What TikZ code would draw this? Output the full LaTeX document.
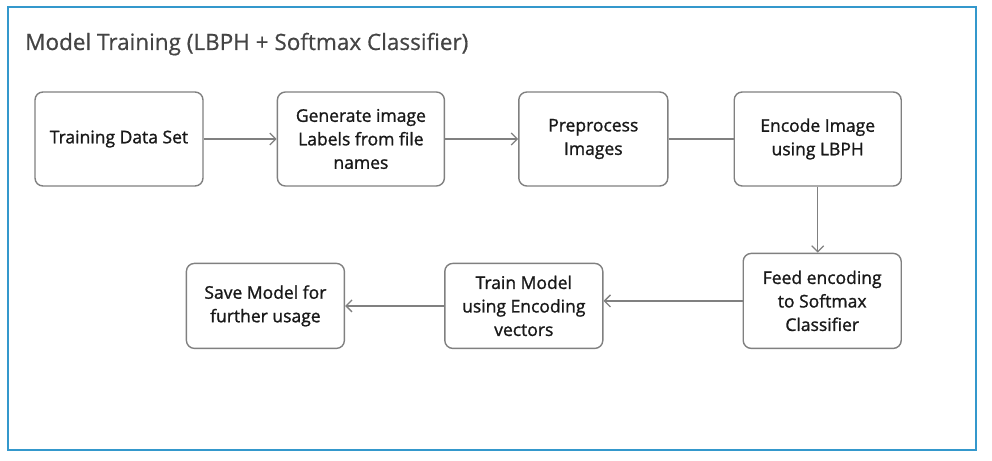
\documentclass[tikz,border=0pt]{standalone}
\usepackage{fontspec}
\setmainfont{Open Sans}
\newfontfamily\stagefont{Open Sans}[FakeBold=1.2]
\newfontfamily\titlefont{Open Sans}[FakeBold=0.6]
\usetikzlibrary{arrows.meta, positioning}
\definecolor{frameblue}{RGB}{52,152,204}
\definecolor{boxgray}{RGB}{128,128,128}
\definecolor{titlegray}{RGB}{68,68,68}

\begin{document}
\begin{tikzpicture}[
        x=1pt, y=-1pt,
        stage/.style={rectangle, draw=boxgray, line width=1.4pt, fill=white, rounded corners=8pt, minimum width=158pt, minimum height=94pt, align=center, font=\stagefont\fontsize{17.5}{23.5}\selectfont, text=black!90},
        arrow/.style={-{Straight Barb[length=6pt, width=12pt]}, line width=1.3pt, boxgray},
        link/.style={line width=1.3pt, boxgray}
    ]
        \useasboundingbox (0,0) rectangle (992,460);
        \draw[frameblue, line width=2.5pt] (8,7) rectangle (976,450);
        \node[anchor=base west, inner sep=0pt, font=\titlefont\fontsize{22.5}{26}\selectfont, text=titlegray] (title) at (25,50) {Model Training (LBPH + Softmax Classifier)};

        % top row
        \node[stage, minimum width=168pt] (data) at (119,139) {Training Data Set};
        \node[stage, minimum width=167pt, right=73pt of data] (labels) {Generate image\\Labels from file\\names};
        \node[stage, minimum width=149pt, right=73pt of labels] (prep) {Preprocess\\Images};
        \node[stage, minimum width=167pt, right=65pt of prep] (encode) {Encode Image\\using LBPH};

        % bottom row
        \node[stage, minimum height=95pt, below=66pt of encode.south east, anchor=north east] (feed) {Feed encoding\\to Softmax\\Classifier};
        \node[stage, minimum height=85pt, left=139pt of feed.south west, anchor=south east] (train) {Train Model\\using Encoding\\vectors};
        \node[stage, minimum height=85pt, left=99pt of train] (save) {Save Model for\\further usage};

        \draw[arrow] (data) -- (labels);
        \draw[arrow] (labels) -- (prep);
        \draw[link] (prep) -- (encode);
        \draw[arrow] (encode.south) -- (encode.south |- feed.north);
        \draw[arrow] (feed.west) -- (feed.west -| train.east);
        \draw[arrow] (train) -- (save);
    \end{tikzpicture}
\end{document}
